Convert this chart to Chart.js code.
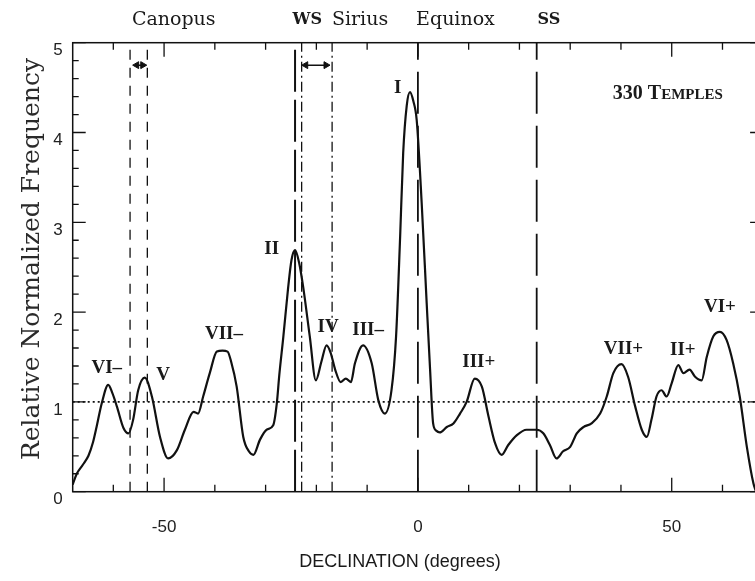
<!DOCTYPE html>
<html>
<head>
<meta charset="utf-8">
<script src="https://cdn.jsdelivr.net/npm/chart.js@4"></script>
<style>
  html, body { margin: 0; padding: 0; background: #fff; overflow: hidden; }
</style>
</head>
<body>
<canvas id="myChart" width="770" height="581"></canvas>
<script>
// traced curve: declination (degrees) and relative normalized frequency
const declination = [
  -68.0, -67.2, -66.0, -64.9, -64.0, -63.3, -62.3, -61.0, -60.2, -59.3,
  -58.0, -57.0, -56.1, -55.1, -53.8, -52.4, -50.8, -49.2, -47.5, -45.9,
  -44.2, -43.3, -42.3, -41.0, -39.6, -38.5, -37.5, -36.8, -35.7, -34.4,
  -33.3, -32.4, -31.1, -29.8, -28.5, -27.8, -27.3, -26.5, -25.6, -24.9,
  -24.2, -23.4, -22.6, -21.3, -20.1, -19.0, -18.0, -17.2, -16.3, -15.2,
  -14.2, -13.2, -12.4, -10.8, -9.1, -7.8, -6.5, -5.2, -4.3, -3.5,
  -2.9, -2.2, -1.56, -0.9, -0.24, 0.75, 1.73, 2.4, 3.0, 3.6,
  4.3, 5.7, 7.0, 8.3, 9.6, 11.2, 12.6, 13.9, 15.2, 16.5,
  17.8, 19.5, 21.4, 23.4, 24.7, 26.0, 27.3, 28.6, 30.0, 31.3,
  32.6, 34.2, 35.9, 37.2, 38.5, 40.1, 41.4, 42.8, 44.1, 45.1,
  46.0, 47.0, 48.0, 49.0, 50.0, 51.3, 52.3, 53.5, 54.6, 55.9,
  56.9, 58.2, 59.5, 60.8, 62.1, 63.4, 64.8, 66.1, 66.6
];
const frequency = [
  0.08, 0.20, 0.30, 0.40, 0.55, 0.72, 0.98, 1.19, 1.10, 0.95,
  0.71, 0.65, 0.80, 1.13, 1.27, 1.06, 0.61, 0.37, 0.46, 0.69,
  0.89, 0.87, 1.06, 1.32, 1.56, 1.57, 1.56, 1.45, 1.17, 0.61,
  0.45, 0.41, 0.58, 0.69, 0.74, 0.98, 1.30, 1.73, 2.25, 2.58,
  2.69, 2.55, 2.28, 1.73, 1.24, 1.45, 1.63, 1.55, 1.36, 1.22,
  1.26, 1.22, 1.43, 1.63, 1.43, 1.02, 0.87, 1.13, 1.73, 2.84,
  3.77, 4.30, 4.45, 4.35, 4.14, 3.21, 2.10, 1.36, 0.76, 0.68,
  0.66, 0.72, 0.76, 0.87, 1.00, 1.26, 1.17, 0.84, 0.54, 0.41,
  0.52, 0.63, 0.69, 0.69, 0.65, 0.52, 0.37, 0.45, 0.50, 0.65,
  0.72, 0.76, 0.87, 1.06, 1.32, 1.42, 1.28, 0.95, 0.69, 0.61,
  0.80, 1.06, 1.13, 1.06, 1.21, 1.41, 1.32, 1.36, 1.28, 1.24,
  1.50, 1.73, 1.78, 1.69, 1.43, 1.06, 0.50, 0.09, 0.00
];

// axes
const xRange = [-68, 68];
const yRange = [0, 5];
const xTickValues = [-50, 0, 50];
const yTickValues = [0, 1, 2, 3, 4, 5];
const xMinorStep = 10;
const yMinorStep = 0.2;
const meanLevel = 1;

// reference declinations
const canopusLines = [-56.7, -53.3];
const siriusLines = [-22.9, -16.9];
const winterSolstice = -24.2;
const equinox = 0;
const summerSolstice = 23.4;
const canopusArrow = [-55.4, -54.2];
const siriusArrow = [-22.1, -18.1];
const arrowLevel = 4.75;

// text on top of the frame
const topLabels = ["Canopus", "WS", "Sirius", "Equinox", "SS"];
const topLabelDecl = [-48.1, -21.8, -11.4, 7.4, 25.8];
const topLabelBold = [false, true, false, false, true];

// peak names and where they sit (declination, frequency)
const peakNames = ["VI\u2013", "V", "VII\u2013", "II", "IV", "III\u2013", "I", "III+", "VII+", "II+", "VI+"];
const peakDecl = [-61.3, -50.2, -38.2, -28.8, -17.7, -9.8, -4.0, 12.0, 40.5, 52.2, 59.5];
const peakFreq = [1.38, 1.30, 1.75, 2.70, 1.83, 1.80, 4.49, 1.44, 1.59, 1.58, 2.06];

const sampleNote = ["330 T", "EMPLES"];
const sampleNoteAt = [38.4, 4.45];

const ink = "#111";

function vline(x, dash, width) {
  return {
    data: [{x: x, y: yRange[0]}, {x: x, y: yRange[1]}],
    borderColor: ink, borderWidth: width, borderDash: dash,
    pointRadius: 0, fill: false
  };
}

function arrow(xs) {
  return {
    data: [{x: xs[0], y: arrowLevel}, {x: xs[1], y: arrowLevel}],
    borderColor: ink, borderWidth: 1.5,
    pointStyle: "triangle", pointRotation: [270, 90], pointRadius: 4,
    pointBackgroundColor: ink, pointBorderColor: ink, pointBorderWidth: 1,
    fill: false
  };
}

// frame, inward ticks and all the text
const decor = {
  id: "decor",
  afterDraw(chart) {
    const {ctx, chartArea: a, scales: {x, y}} = chart;
    ctx.save();
    ctx.strokeStyle = ink;
    ctx.lineWidth = 1.5;
    ctx.strokeRect(a.left, a.top, a.right - a.left, a.bottom - a.top);

    ctx.lineWidth = 1.3;
    ctx.beginPath();
    for (let v = -60; v <= 60; v += xMinorStep) {
      const px = x.getPixelForValue(v);
      const len = xTickValues.includes(v) ? 14 : 7;
      ctx.moveTo(px, a.bottom); ctx.lineTo(px, a.bottom - len);
      ctx.moveTo(px, a.top); ctx.lineTo(px, a.top + len);
    }
    for (let i = 0; i <= Math.round((yRange[1] - yRange[0]) / yMinorStep); i++) {
      const v = yRange[0] + i * yMinorStep;
      const py = y.getPixelForValue(v);
      const len = Math.abs(v - Math.round(v)) < 1e-6 ? 13 : 6;
      ctx.moveTo(a.left, py); ctx.lineTo(a.left + len, py);
      ctx.moveTo(a.right, py); ctx.lineTo(a.right - len, py);
    }
    ctx.stroke();

    ctx.fillStyle = "#1a1a1a";
    ctx.textAlign = "center";
    ctx.textBaseline = "middle";

    // top labels
    topLabels.forEach((t, i) => {
      ctx.font = topLabelBold[i] ? "bold 16px 'DejaVu Serif'" : "19px 'DejaVu Serif'";
      ctx.fillText(t, x.getPixelForValue(topLabelDecl[i]), 20);
    });

    // peak names
    ctx.font = "bold 19px 'Liberation Serif'";
    peakNames.forEach((t, i) => {
      ctx.fillText(t, x.getPixelForValue(peakDecl[i]), y.getPixelForValue(peakFreq[i]));
    });

    // 330 TEMPLES in small caps
    ctx.textAlign = "left";
    ctx.textBaseline = "alphabetic";
    let nx = x.getPixelForValue(sampleNoteAt[0]);
    const ny = y.getPixelForValue(sampleNoteAt[1]) + 7;
    ctx.font = "bold 20px 'Liberation Serif'";
    ctx.fillText(sampleNote[0], nx, ny);
    nx += ctx.measureText(sampleNote[0]).width;
    ctx.font = "bold 15px 'Liberation Serif'";
    ctx.fillText(sampleNote[1], nx, ny);

    // axis titles
    ctx.textAlign = "center";
    ctx.textBaseline = "middle";
    ctx.font = "18px 'Liberation Sans'";
    ctx.fillText("DECLINATION (degrees)", 400, 562);
    ctx.save();
    ctx.translate(32, 259);
    ctx.rotate(-Math.PI / 2);
    ctx.font = "25px 'DejaVu Serif'";
    ctx.fillStyle = "#2a2a2a";
    ctx.fillText("Relative Normalized Frequency", 0, 0);
    ctx.restore();

    ctx.restore();
  }
};

const config = {
  type: "line",
  data: {
    datasets: [
      {
        data: declination.map((d, i) => ({x: d, y: frequency[i]})),
        borderColor: ink, borderWidth: 2.2,
        pointRadius: 0, fill: false,
        cubicInterpolationMode: "monotone"
      },
      {
        data: [{x: xRange[0], y: meanLevel}, {x: xRange[1], y: meanLevel}],
        borderColor: ink, borderWidth: 1.6, borderDash: [2, 3],
        pointRadius: 0, fill: false
      },
      vline(canopusLines[0], [10, 8], 1.3),
      vline(canopusLines[1], [10, 8], 1.3),
      vline(siriusLines[0], [10, 4, 2, 4], 1.3),
      vline(siriusLines[1], [10, 4, 2, 4], 1.3),
      vline(winterSolstice, [42, 8], 2),
      vline(equinox, [42, 12], 1.8),
      vline(summerSolstice, [42, 12], 1.8),
      arrow(canopusArrow),
      arrow(siriusArrow)
    ]
  },
  options: {
    responsive: false,
    animation: false,
    events: [],
    layout: { padding: { top: 42.7, right: 6.9, left: 0, bottom: 0 } },
    plugins: { legend: { display: false }, tooltip: { enabled: false } },
    scales: {
      x: {
        type: "linear", min: xRange[0], max: xRange[1],
        afterBuildTicks: s => { s.ticks = xTickValues.map(v => ({value: v})); },
        afterFit: s => { s.height = 89.3; },
        grid: { display: false, drawTicks: false }, border: { display: false },
        ticks: { padding: 25, color: "#222", maxRotation: 0, autoSkip: false,
                 font: { family: "'Liberation Sans'", size: 17 } }
      },
      y: {
        type: "linear", min: yRange[0], max: yRange[1],
        afterBuildTicks: s => { s.ticks = yTickValues.map(v => ({value: v})); },
        afterFit: s => { s.width = 72.7; },
        grid: { display: false, drawTicks: false }, border: { display: false },
        ticks: { padding: 10, labelOffset: 8, color: "#222",
                 font: { family: "'Liberation Sans'", size: 17 } }
      }
    }
  },
  plugins: [decor]
};

const myChart = new Chart(document.getElementById("myChart").getContext("2d"), config);
</script>
</body>
</html>
